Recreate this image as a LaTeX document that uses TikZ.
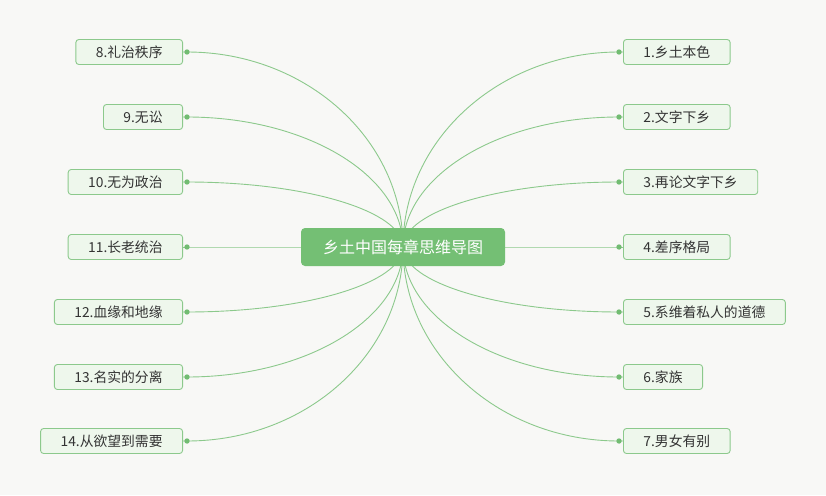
\documentclass[tikz,border=0pt]{standalone}
\usepackage{fontspec}
\setmainfont{Noto Sans CJK SC}
\definecolor{paper}{HTML}{F8F8F6}
\definecolor{hubgreen}{HTML}{74BF74}
\definecolor{linegreen}{HTML}{8CC98C}
\definecolor{boxfill}{HTML}{EEF7EC}
\definecolor{boxline}{HTML}{8CC98C}
\definecolor{dotgreen}{HTML}{72BC72}
\tikzset{
  hub/.style={fill=hubgreen, rounded corners=4pt, minimum width=204pt, minimum height=38pt,
    text=white, font=\fontsize{16}{16}\selectfont},
  leaf/.style={draw=boxline, line width=0.9pt, fill=boxfill, rounded corners=3pt, minimum height=25pt,
    inner xsep=20pt, text=black!80, font=\fontsize{13.8}{14}\selectfont},
  branch/.style={draw=linegreen, line width=0.9pt},
}

\begin{document}
\begin{tikzpicture}[x=1pt,y=-1pt]
  \fill[paper] (0,0) rectangle (826,495);
  \useasboundingbox (0,0) rectangle (826,495);
  \coordinate (hub) at (403,247);
  % right side
  \foreach \n/\y/\t in {1/52/{1.乡土本色},2/117/{2.文字下乡},3/182/{3.再论文字下乡},
      4/247/{4.差序格局},5/312/{5.系维着私人的道德},6/377/{6.家族},7/441/{7.男女有别}}{
    \pgfmathsetmacro{\cy}{247+0.552*(\y-247)}
    \node[leaf, anchor=west] (r\n) at (623,\y) {\t};
    \coordinate (dr\n) at (619,\y);
    \draw[branch] (hub) .. controls (403,\cy) and (499.8,\y) .. (dr\n) -- (r\n.west);
    \fill[dotgreen] (dr\n) circle (2.7);
  }
  % left side
  \foreach \n/\y/\t in {8/52/{8.礼治秩序},9/117/{9.无讼},10/182/{10.无为政治},
      11/247/{11.长老统治},12/312/{12.血缘和地缘},13/377/{13.名实的分离},14/441/{14.从欲望到需要}}{
    \pgfmathsetmacro{\cy}{247+0.552*(\y-247)}
    \node[leaf, anchor=east] (l\n) at (183,\y) {\t};
    \coordinate (dl\n) at (187,\y);
    \draw[branch] (hub) .. controls (403,\cy) and (306.2,\y) .. (dl\n) -- (l\n.east);
    \fill[dotgreen] (dl\n) circle (2.7);
  }
  \node[hub] (root) at (hub) {乡土中国每章思维导图};
\end{tikzpicture}
\end{document}
